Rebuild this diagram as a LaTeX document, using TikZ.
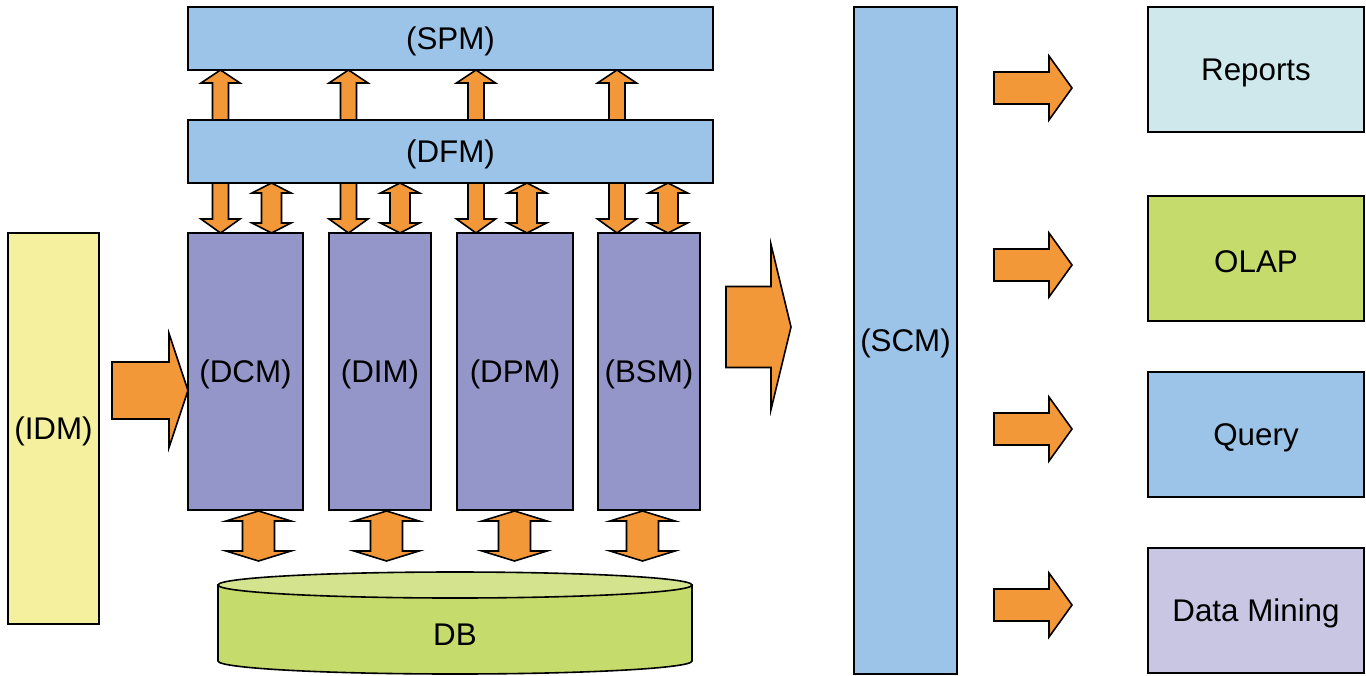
\documentclass[tikz,border=0pt]{standalone}
\usepackage{fontspec}
\setmainfont{Liberation Sans}
\usetikzlibrary{fit}
\definecolor{cblue}{HTML}{9BC4E8}
\definecolor{cpurple}{HTML}{9496C9}
\definecolor{cyellow}{HTML}{F5F09E}
\definecolor{cgreen}{HTML}{C5DB6B}
\definecolor{cgreenlt}{HTML}{D3E38E}
\definecolor{ccyan}{HTML}{CEE8EC}
\definecolor{clav}{HTML}{C8C6E2}
\definecolor{corange}{HTML}{F39839}
\tikzset{
  blk/.style={draw=black, line width=1.2pt, inner sep=0pt},
  lbl/.style={font=\fontsize{23.5}{28}\selectfont, inner sep=0pt, yshift=-2.5pt},
  barrow/.style={draw=black, fill=corange, line width=1.2pt, line join=miter},
}
% vertical single arrow: cx, tip y, head base y, tail y, half head, half shaft
\newcommand\varrow[6]{\draw[barrow] ({#1-#6},#4) -- ({#1-#6},#3) -- ({#1-#5},#3) -- (#1,#2) -- ({#1+#5},#3) -- ({#1+#6},#3) -- ({#1+#6},#4) -- cycle;}
% vertical double arrow: cx, tip1, base1, base2, tip2, half head, half shaft
\newcommand\dvarrow[7]{\draw[barrow] (#1,#2) -- ({#1+#6},#3) -- ({#1+#7},#3) -- ({#1+#7},#4) -- ({#1+#6},#4) -- (#1,#5) -- ({#1-#6},#4) -- ({#1-#7},#4) -- ({#1-#7},#3) -- ({#1-#6},#3) -- cycle;}
% horizontal single arrow: cy, tip x, head base x, tail x, half head, half shaft
\newcommand\harrow[6]{\draw[barrow] (#4,{#1-#6}) -- (#3,{#1-#6}) -- (#3,{#1-#5}) -- (#2,#1) -- (#3,{#1+#5}) -- (#3,{#1+#6}) -- (#4,{#1+#6}) -- cycle;}
\begin{document}
\begin{tikzpicture}[x=0.75pt,y=-0.75pt]
\useasboundingbox[fill=white] (0,0) rectangle (1366,675);
% boxes
\node[blk, fill=cblue, fit={(188,7) (713,70)}] (spm) {};
\node[blk, fill=cblue, fit={(188,120) (713,183)}] (dfm) {};
\node[blk, fill=cpurple, fit={(188,233) (303,510)}] (dcm) {};
\node[blk, fill=cpurple, fit={(329,233) (431,510)}] (dim) {};
\node[blk, fill=cpurple, fit={(457,233) (573,510)}] (dpm) {};
\node[blk, fill=cpurple, fit={(598,233) (700,510)}] (bsm) {};
\node[blk, fill=cyellow, fit={(8,233) (99,624)}] (idm) {};
\node[blk, fill=cblue, fit={(854,7) (957,674)}] (scm) {};
\node[blk, fill=ccyan, fit={(1148,7) (1364,132)}] (rep) {};
\node[blk, fill=cgreen, fit={(1148,196) (1364,321)}] (olap) {};
\node[blk, fill=cblue, fit={(1148,372) (1364,497)}] (query) {};
\node[blk, fill=clav, fit={(1148,548) (1364,673)}] (dm) {};
\node[lbl] (spmt) at (spm) {(SPM)};
\node[lbl] (dfmt) at (dfm) {(DFM)};
\node[lbl] (dcmt) at (dcm) {(DCM)};
\node[lbl] (dimt) at (dim) {(DIM)};
\node[lbl] (dpmt) at (dpm) {(DPM)};
\node[lbl] (bsmt) at (bsm) {(BSM)};
\node[lbl] (idmt) at (idm) {(IDM)};
\node[lbl] (scmt) at (scm) {(SCM)};
\node[lbl] (rept) at (rep) {Reports};
\node[lbl] (olapt) at (olap) {OLAP};
\node[lbl] (queryt) at (query) {Query};
\node[lbl] (dmt) at (dm) {Data Mining};
% DB cylinder
\draw[line width=1.2pt, fill=cgreen] (218,585) -- (218,661) arc[start angle=180, end angle=360, x radius=177.75pt, y radius=9.75pt] -- (692,585) -- cycle;
\draw[line width=1.2pt, fill=cgreenlt] (455,585) ellipse [x radius=177.75pt, y radius=9.75pt];
\node[lbl] (db) at (455,631) {DB};
% up arrows DFM -> SPM
\foreach \cx in {220.5,348.5,476,617} {\varrow{\cx}{70}{83}{120}{19.5}{8}}
% down arrows DFM -> modules
\foreach \cx in {220.5,348.5,476,617} {\varrow{\cx}{233}{219}{183}{19.5}{8}}
% double arrows DFM <-> modules
\foreach \cx in {271.5,400,527,668} {\dvarrow{\cx}{183}{193}{223}{233}{19.5}{10}}
% double arrows modules <-> DB
\foreach \cx in {258.5,386.5,514.5,642.5} {\dvarrow{\cx}{511}{521}{551}{561}{32.5}{16}}
% IDM -> DCM
\harrow{390.5}{188}{169}{112}{57}{28.5}
% modules -> SCM
\harrow{327}{791}{771}{726}{82.5}{40.5}
% SCM -> outputs
\foreach \cy in {88,265,429,605} {\harrow{\cy}{1072}{1049}{994}{32}{16}}
\end{tikzpicture}
\end{document}
